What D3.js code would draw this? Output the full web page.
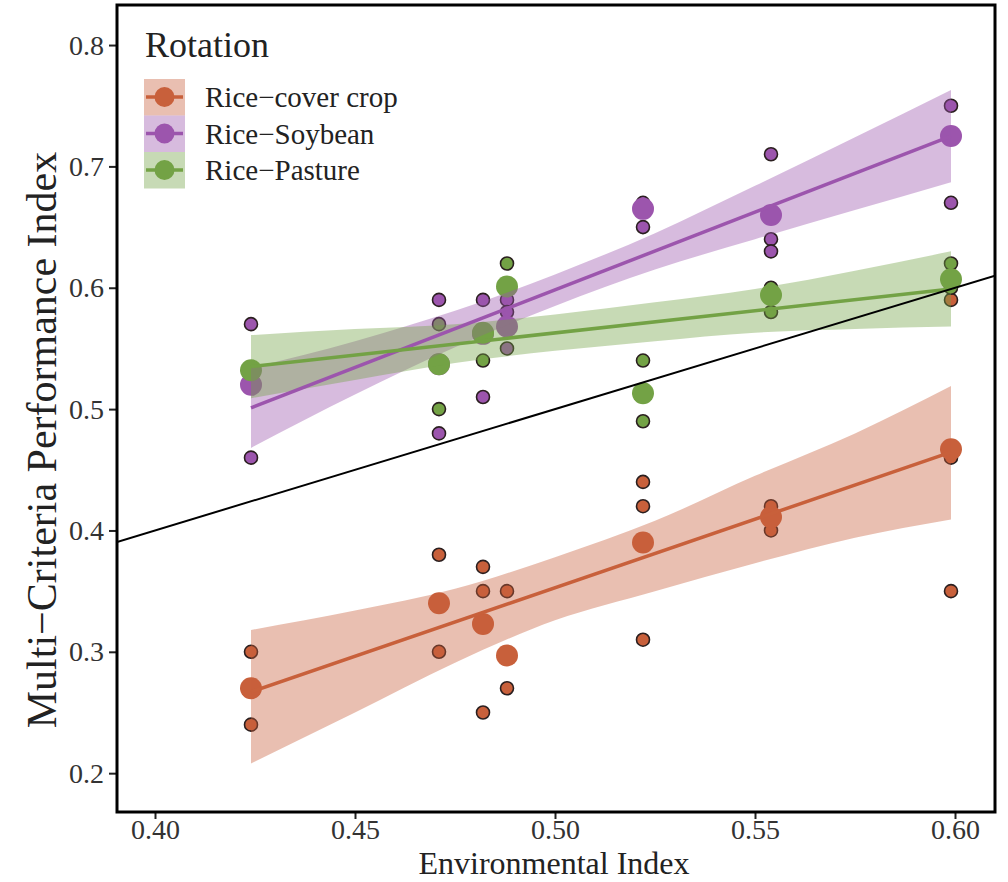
<!DOCTYPE html>
<html>
<head>
<meta charset="utf-8">
<script src="https://cdn.jsdelivr.net/npm/d3@7"></script>
<style>
  body { margin: 0; background: #fff; }
  svg { font-family: "Liberation Serif", "Times New Roman", serif; }
</style>
</head>
<body>
<svg width="1008" height="882"></svg>
<script>
// rotations and their colours
var rotations = ["Rice\u2212cover crop", "Rice\u2212Soybean", "Rice\u2212Pasture"];
var colors = ["#c8603b", "#9c55ad", "#73a245"];

// environmental index of each site (x positions)
var envIndex = [0.424, 0.471, 0.482, 0.488, 0.522, 0.554, 0.599];

// observations per site (small dots)
var coverObs   = [[0.30, 0.24], [0.38, 0.30], [0.37, 0.35, 0.25], [0.35, 0.27], [0.44, 0.42, 0.31], [0.42, 0.41, 0.40], [0.59, 0.46, 0.35]];
var soybeanObs = [[0.57, 0.46], [0.59, 0.48], [0.59, 0.51], [0.59, 0.58, 0.55], [0.67, 0.65], [0.71, 0.64, 0.63], [0.75, 0.67]];
var pastureObs = [[], [0.57, 0.50], [0.54], [0.62], [0.54, 0.49], [0.60, 0.58], [0.62, 0.60]];

// site means (large dots)
var coverMean   = [0.270, 0.340, 0.323, 0.297, 0.390, 0.411, 0.467];
var soybeanMean = [0.520, 0.537, 0.562, 0.568, 0.665, 0.660, 0.725];
var pastureMean = [0.532, 0.537, 0.563, 0.601, 0.513, 0.594, 0.607];

// fitted lines (ends)
var fitX = [0.424, 0.599];
var coverFit   = [0.267, 0.4645];
var soybeanFit = [0.501, 0.725];
var pastureFit = [0.535, 0.599];

// confidence bands
var bandX = [0.424, 0.45, 0.475, 0.50, 0.525, 0.55, 0.575, 0.599];
var coverLo   = [0.208, 0.250, 0.291, 0.326, 0.350, 0.373, 0.394, 0.409];
var coverHi   = [0.318, 0.334, 0.352, 0.378, 0.408, 0.445, 0.480, 0.519];
var soybeanLo = [0.468, 0.512, 0.551, 0.585, 0.615, 0.640, 0.664, 0.687];
var soybeanHi = [0.534, 0.556, 0.581, 0.611, 0.645, 0.684, 0.724, 0.763];
var pastureLo = [0.509, 0.524, 0.538, 0.548, 0.556, 0.563, 0.566, 0.568];
var pastureHi = [0.561, 0.566, 0.570, 0.578, 0.588, 0.599, 0.614, 0.630];

var xTicks = [0.40, 0.45, 0.50, 0.55, 0.60];
var yTicks = [0.2, 0.3, 0.4, 0.5, 0.6, 0.7, 0.8];

var series = [
    { obs: coverObs, mean: coverMean, fit: coverFit, lo: coverLo, hi: coverHi },
    { obs: soybeanObs, mean: soybeanMean, fit: soybeanFit, lo: soybeanLo, hi: soybeanHi },
    { obs: pastureObs, mean: pastureMean, fit: pastureFit, lo: pastureLo, hi: pastureHi }
];

var margin = { top: 5, bottom: 70, left: 117, right: 13 };
var width = 1008, height = 882;

var x = d3.scaleLinear().domain([0.3905, 0.610]).range([margin.left, width - margin.right]);
var y = d3.scaleLinear().domain([0.168, 0.833]).range([height - margin.bottom, margin.top]);

var svg = d3.select("svg");

svg.append("clipPath").attr("id", "panel")
    .append("rect")
    .attr("x", margin.left).attr("y", margin.top)
    .attr("width", width - margin.left - margin.right)
    .attr("height", height - margin.top - margin.bottom);

var plot = svg.append("g").attr("clip-path", "url(#panel)");

// small dots
series.forEach(function (s, i) {
    var pts = [];
    s.obs.forEach(function (vals, j) {
        vals.forEach(function (v) { pts.push([envIndex[j], v]); });
    });
    plot.append("g").selectAll("circle")
        .data(pts)
        .enter().append("circle")
        .attr("cx", function (d) { return x(d[0]); })
        .attr("cy", function (d) { return y(d[1]); })
        .attr("r", 6.5)
        .attr("fill", colors[i])
        .attr("stroke", "#2a1f1f")
        .attr("stroke-width", 1.6);
});

// means
series.forEach(function (s, i) {
    plot.append("g").selectAll("circle")
        .data(s.mean)
        .enter().append("circle")
        .attr("cx", function (d, j) { return x(envIndex[j]); })
        .attr("cy", function (d) { return y(d); })
        .attr("r", 11)
        .attr("fill", colors[i]);
});

// bands + fit lines
var area = d3.area()
    .x(function (d) { return x(d[0]); })
    .y0(function (d) { return y(d[1]); })
    .y1(function (d) { return y(d[2]); })
    .curve(d3.curveMonotoneX);

series.forEach(function (s, i) {
    var band = bandX.map(function (bx, k) { return [bx, s.lo[k], s.hi[k]]; });
    plot.append("path")
        .attr("d", area(band))
        .attr("fill", colors[i])
        .attr("fill-opacity", 0.4);
});

series.forEach(function (s, i) {
    plot.append("line")
        .attr("x1", x(fitX[0])).attr("y1", y(s.fit[0]))
        .attr("x2", x(fitX[1])).attr("y2", y(s.fit[1]))
        .attr("stroke", colors[i])
        .attr("stroke-width", 3.5);
});

// 1:1 line
plot.append("line")
    .attr("x1", x(0.3905)).attr("y1", y(0.3905))
    .attr("x2", x(0.610)).attr("y2", y(0.610))
    .attr("stroke", "#000")
    .attr("stroke-width", 2);

// axes
var xAxis = svg.append("g")
    .attr("transform", "translate(0," + (height - margin.bottom) + ")")
    .call(d3.axisBottom(x).tickValues(xTicks).tickFormat(d3.format(".2f")).tickSize(7).tickPadding(0));
var yAxis = svg.append("g")
    .attr("transform", "translate(" + margin.left + ",0)")
    .call(d3.axisLeft(y).tickValues(yTicks).tickFormat(d3.format(".1f")).tickSize(8).tickPadding(5));

[xAxis, yAxis].forEach(function (a) {
    a.select(".domain").remove();
    a.selectAll(".tick line").attr("stroke", "#222").attr("stroke-width", 2);
    a.selectAll(".tick text").attr("fill", "#333").style("font-size", "28px")
        .style("font-family", "'Liberation Serif', serif");
});

// panel border
svg.append("rect")
    .attr("x", margin.left).attr("y", margin.top)
    .attr("width", width - margin.left - margin.right)
    .attr("height", height - margin.top - margin.bottom)
    .attr("fill", "none")
    .attr("stroke", "#000")
    .attr("stroke-width", 3);

// axis titles
svg.append("text")
    .attr("x", 554)
    .attr("y", 874)
    .attr("text-anchor", "middle")
    .style("font-size", "32px")
    .attr("fill", "#222")
    .text("Environmental Index");

svg.append("text")
    .attr("transform", "translate(56,440) rotate(-90)")
    .attr("text-anchor", "middle")
    .style("font-size", "42px")
    .attr("fill", "#222")
    .text("Multi\u2212Criteria Performance Index");

// legend
var legend = svg.append("g").attr("transform", "translate(144,0)");
legend.append("text")
    .attr("x", 1).attr("y", 57)
    .style("font-size", "36px")
    .attr("fill", "#222")
    .text("Rotation");

rotations.forEach(function (name, i) {
    var g = legend.append("g").attr("transform", "translate(0," + (79 + i * 36.5) + ")");
    g.append("rect").attr("width", 41).attr("height", 36.5)
        .attr("fill", colors[i]).attr("fill-opacity", 0.4);
    g.append("line").attr("x1", 2).attr("x2", 39).attr("y1", 18).attr("y2", 18)
        .attr("stroke", colors[i]).attr("stroke-width", 3.5);
    g.append("circle").attr("cx", 20.5).attr("cy", 18).attr("r", 10).attr("fill", colors[i]);
    g.append("text").attr("x", 61).attr("y", 28)
        .style("font-size", "29px")
        .attr("fill", "#222")
        .text(name);
});
</script>
</body>
</html>
